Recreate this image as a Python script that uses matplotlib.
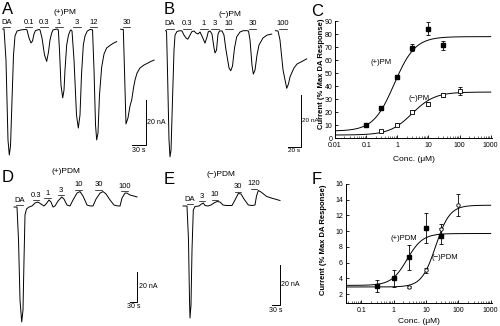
import numpy as np
import matplotlib
matplotlib.use("Agg")
import matplotlib.pyplot as plt
from matplotlib import transforms

plt.rcParams['font.family'] = ['Liberation Sans', 'DejaVu Sans']

W, H = 500, 326

# ---- current traces: time (s), current (nA) ----
# A: (+)PM, two recording segments
a_t1 = [5.8, 8.6, 12.8, 17.1, 19.9, 22.5, 25.7, 28.9, 32.1, 36.4,
        44.9, 55.6, 57.8, 62.1, 66.3, 69.6, 72.8, 76.0, 83.5, 85.6,
        89.9, 95.2, 99.9, 103.8, 107, 110.6, 113.4, 122, 124.8, 127.3,
        130.5, 134.2, 137, 139.1, 142.7, 146.6, 149.8, 151.9, 154.1, 158.4,
        163.7, 167.6, 171.2, 174.4, 178.3, 181.9, 186.8, 192.6, 198, 201.2,
        204.4, 206.9, 209.7, 212.9, 217.6, 222.6, 228.3, 235.4, 241.8, 249.7]
a_i1 = [0, 0, -13.8, -49.3, -56, -52, -31.6, -11.5, -3.1, -0.9,
        -0.4, -0.2, -0.4, -4, -6.2, -5.3, -2.2, -0.7, -0.2, -0.4,
        -4, -11.5, -14.4, -10.2, -4.9, -1.8, -0.4, 0, -0.4, -9.3,
        -24.9, -30.6, -27.1, -18.2, -7.1, -2.7, -0.9, -0.4, -0.9, -13.8,
        -38.2, -44, -38.2, -20.4, -7.1, -3.1, -0.9, -0.2, -0.4, -18.2,
        -42.6, -49.3, -46.2, -29.3, -16.9, -11.1, -8.4, -7.3, -6.4, -5.6]
a_t2 = [258.3, 263.9, 266.4, 269.6, 273.9, 278.2, 281.8, 285.7, 288.9, 293.2,
        299.6, 308.2, 316.7, 323.1, 329.6]
a_i2 = [-0.1, -0.2, -18.2, -42.2, -39.5, -34.2, -31.6, -26.2, -22.7, -19.6,
        -17.3, -16.0, -15.1, -14.4, -13.8]
a_names = ["DA", "0.1", "0.3", "1", "3", "12", "30"]
a_times = [14, 61, 94, 126, 165, 200, 271]

# B: (-)PM
b_t1 = [0.8, 2.4, 3.9, 6.3, 7.9, 9.5, 11.8, 14.2, 15.8, 18.9,
        23.6, 26.8, 29.9, 33.1, 35.8, 38.6, 42.1, 45.7, 48.8, 52,
        55.1, 58.3, 63, 66.2, 68.2, 70.9, 74, 77.2, 78.8, 81.1,
        83.5, 85.8, 89.8, 92.9, 96.1, 100.8, 103.5, 106.3, 109.5, 112.9,
        118.1, 123.3, 128.7, 131.5, 133.9, 137, 139.1, 141.8, 144.9, 148.1,
        154.4, 160.7, 168.1]
b_i1 = [0, -0.1, -15.2, -42.3, -48.8, -46.2, -26.8, -7.4, -1.7, -0.3,
        0, -0.1, -1.7, -2.8, -3.3, -2.1, -0.4, -0.1, -0.9, -1.3,
        -0.5, -2.1, -4.8, -2.4, -0.4, -0.1, -1.3, -6.7, -8.6, -7.5,
        -1.3, -0.1, -0.1, -1.7, -7.5, -14.4, -15.5, -13.7, -6.7, -2.4,
        -0.5, 0, 0, -0.1, -3.6, -13.3, -16.8, -15.2, -9.4, -5.5,
        -2.8, -1.7, -1.3]
b_t2 = [174, 178, 181.1, 185.9, 191.7, 194.5, 196.9, 199.5, 203.2, 207.9, 214.2, 223.2]
b_i2 = [0, -0.1, -3.6, -15.2, -22.3, -20.6, -17.9, -16.4, -14.4, -12.9, -12.1, -10.9]
b_names = ["DA", "0.3", "1", "3", "10", "30", "100"]
b_times = [7.9, 34.7, 61.4, 78.8, 100.8, 137.8, 185.9]

# D: (+)PDM
d_t = [0, 12.3, 18.5, 24.6, 31.6, 36.9, 41, 45.1, 51.3, 61.5,
       73.8, 86.1, 98.4, 110.7, 123, 131.2, 143.5, 151.7, 159.9, 168.1,
       180.4, 195.6, 205, 217.3, 229.6, 241.9, 258.3, 270.6, 282.9, 299.3,
       311.6, 323.9, 336.2, 352.6, 364.9, 377.2, 393.6, 410, 426.4, 434.6,
       442.8, 455.1, 463.3, 475.6, 492, 504.3]
d_i = [0, 0, -22, -62, -76.7, -68.7, -35.3, -5.3, -1.3, 0,
       0.7, 2.7, 3.3, 2, 0.7, 2, 4.7, 3.3, 0, 0.7,
       4, 6.7, 5.3, 1.3, 0.7, 4.7, 9.3, 10.3, 7.3, 1.3,
       0.7, 0.7, 5.3, 9.3, 10.3, 8.7, 4.7, 1.3, 0.7, 0.7,
       6, 9.3, 9.3, 8, 7.3, 6.7]
d_names = ["DA", "0.3", "1", "3", "10", "30", "100"]
d_times = [22.5, 90, 138, 193, 266, 348, 453]

# E: (-)PDM
e_t = [0, 14.4, 19.8, 23.4, 25.2, 28.8, 32.4, 37.1, 43.2, 57.6,
       66.6, 73.1, 79.2, 90, 100.8, 111.6, 122.4, 133.2, 144, 154.8,
       176.4, 187.2, 199.1, 208.8, 219.6, 235.1, 248.4, 259.2, 264.6, 271.1,
       280.8, 301.3, 324, 349.2]
e_i = [0, 0, -17, -47, -56, -49.5, -22, -2, -0.25, 0,
       1, 1.5, 0.25, 0, 0.5, 1.5, 2.25, 2, 0.5, 0.25,
       0.25, 3, 6.25, 6, 3.5, 0.5, 0.25, 0.5, 5, 7.75,
       7, 4.75, 3.75, 2.75]
e_names = ["DA", "3", "10", "30", "120"]
e_times = [25.2, 68.4, 115.2, 198, 255.6]

# ---- concentration-response data (uM, % max DA response) ----
pm_plus_x = [0.1, 0.3, 1, 3, 10, 30]
pm_plus_y = [10.5, 23, 47, 69.5, 84, 71.5]
pm_plus_err = [1, 1.5, 1.5, 2.5, 5, 3.5]
pm_minus_x = [0.3, 1, 3, 10, 30, 100]
pm_minus_y = [5.5, 10.5, 20.5, 26.5, 33, 36]
pm_minus_err = [0.5, 1, 1, 1.5, 1.5, 3]
pm_plus_fit = (5.5, 78, 0.8, 1.3)     # bottom, top, EC50, Hill
pm_minus_fit = (2.5, 35.5, 3.0, 1.2)

pdm_plus_x = [0.3, 1, 3, 10, 30]
pdm_plus_y = [3.0, 4.0, 6.7, 10.4, 9.4]
pdm_plus_err = [0.8, 1.1, 1.6, 1.9, 1.0]
pdm_minus_x = [3, 10, 30, 100]
pdm_minus_y = [2.9, 5.0, 10.3, 13.3]
pdm_minus_err = [0.1, 0.3, 0.6, 1.4]
pdm_plus_fit = (3.1, 9.7, 2.6, 1.8)
pdm_minus_fit = (2.9, 13.3, 20, 2.0)


def hill(x, bottom, top, ec50, n):
    return bottom + (top - bottom) / (1 + (ec50 / x) ** n)


fig = plt.figure(figsize=(W / 100, H / 100), dpi=100)


def px_axes(x0, y0, x1, y1):
    return fig.add_axes([x0 / W, 1 - y1 / H, (x1 - x0) / W, (y1 - y0) / H])


def trace_axes(box, xlim, ylim):
    ax = px_axes(*box)
    ax.set_xlim(*xlim)
    ax.set_ylim(*ylim)
    ax.set_axis_off()
    ax.patch.set_visible(False)
    return ax


def draw_trace(ax, segments):
    for t, i in segments:
        ax.plot(t, i, color='k', lw=0.7, clip_on=False)


def drug_labels(ax, segments, names, times, win, half):
    t_all = np.concatenate([np.asarray(s[0]) for s in segments])
    i_all = np.concatenate([np.asarray(s[1]) for s in segments])
    off_txt = transforms.offset_copy(ax.transData, fig=fig, y=2.4, units='points')
    off_bar = transforms.offset_copy(ax.transData, fig=fig, y=1.3, units='points')
    for name, t in zip(names, times):
        near = (t_all > t - win) & (t_all < t + win)
        ref = max(0.0, i_all[near].max()) if near.any() else 0.0
        ax.text(t, ref, name, transform=off_txt, ha='center', va='bottom', fontsize=5.5)
        ax.plot([t - half, t + half], [ref, ref], transform=off_bar,
                color='k', lw=0.5, clip_on=False)


def scale_bar(ax, t_right, i_bottom, dt, di, t_text, i_text, size=5):
    ax.plot([t_right - dt, t_right, t_right], [i_bottom, i_bottom, i_bottom + di],
            color='k', lw=0.7, clip_on=False)
    ax.annotate(i_text, (t_right, i_bottom + di / 2), xytext=(1.0, 0),
                textcoords='offset points', ha='left', va='center', fontsize=size)
    ax.annotate(t_text, (t_right - dt / 2, i_bottom), xytext=(0, -1.2),
                textcoords='offset points', ha='center', va='top', fontsize=size)


# A
ax_a = trace_axes((0, 20, 160, 160), (0, 342.4), (-58.2, 4.0))
seg_a = [(a_t1, a_i1), (a_t2, a_i2)]
draw_trace(ax_a, seg_a)
drug_labels(ax_a, seg_a, a_names, a_times, 10, 8)
scale_bar(ax_a, 311.8, -51.5, 30, 20, "30 s", "20 nA")

# B
ax_b = trace_axes((165, 20, 325, 170), (0, 252), (-53.9, 4.14))
seg_b = [(b_t1, b_i1), (b_t2, b_i2)]
draw_trace(ax_b, seg_b)
drug_labels(ax_b, seg_b, b_names, b_times, 8, 6)
scale_bar(ax_b, 213.7, -44.9, 20, 20, "20 s", "20 nA", size=4.6)

# D
ax_d = trace_axes((0, 170, 165, 326), (-57.4, 619), (-79.4, 24.7))
seg_d = [(d_t, d_i)]
draw_trace(ax_d, seg_d)
drug_labels(ax_d, seg_d, d_names, d_times, 20, 14)
scale_bar(ax_d, 505.5, -63.1, 30, 20, "30 s", "20 nA")

# E
ax_e = trace_axes((165, 170, 320, 326), (-64.8, 493.2), (-60, 18))
seg_e = [(e_t, e_i)]
draw_trace(ax_e, seg_e)
drug_labels(ax_e, seg_e, e_names, e_times, 20, 12)
scale_bar(ax_e, 349.2, -49.5, 30, 20, "30 s", "20 nA")


def dose_axes(box, xlim, ylim, yticks):
    ax = px_axes(*box)
    ax.set_xscale('log')
    ax.set_xlim(*xlim)
    ax.set_ylim(*ylim)
    ax.set_yticks(yticks)
    ax.set_xticks([0.01, 0.1, 1, 10, 100, 1000])
    ax.set_xticklabels(["0.01", "0.1", "1", "10", "100", "1000"])
    ax.set_xlim(*xlim)
    for side in ('top', 'right'):
        ax.spines[side].set_visible(False)
    for side in ('left', 'bottom'):
        ax.spines[side].set_linewidth(0.7)
    ax.tick_params(which='major', direction='in', length=2.5, width=0.6,
                   labelsize=5, pad=2)
    ax.tick_params(axis='x', which='major', pad=2.8)
    ax.tick_params(which='minor', direction='in', length=1.3, width=0.4)
    ax.set_xlabel("Conc. (\u03bcM)", fontsize=6, labelpad=1.5)
    ax.set_ylabel("Current (% Max DA Response)", fontsize=5.5, fontweight='bold')
    return ax


# C
ax_c = dose_axes((335, 21, 492, 138.3), (0.01, 1100), (0, 90), range(0, 91, 10))
xs = np.logspace(-2, np.log10(1000), 300)
ax_c.plot(xs, hill(xs, *pm_plus_fit), color='k', lw=0.7)
ax_c.plot(xs, hill(xs, *pm_minus_fit), color='k', lw=0.7)
ax_c.errorbar(pm_plus_x, pm_plus_y, yerr=pm_plus_err, fmt='s', color='k', ms=2.5,
              mfc='k', elinewidth=0.6, capsize=1.2, capthick=0.6)
ax_c.errorbar(pm_minus_x, pm_minus_y, yerr=pm_minus_err, fmt='s', color='k', ms=2.5,
              mfc='white', mew=0.6, elinewidth=0.6, capsize=1.2, capthick=0.6)
ax_c.text(0.3, 58.5, "(+)PM", fontsize=5.5, ha='center', va='center')
ax_c.text(5.0, 30.2, "(\u2212)PM", fontsize=5.5, ha='center', va='center')
ax_c.yaxis.set_label_coords(-0.062, 0.55)
ax_c.xaxis.set_label_coords(0.5, -0.15)

# F
ax_f = dose_axes((345.7, 184, 492, 302.7), (0.033, 1100), (0.9, 16), range(2, 17, 2))
xs = np.logspace(np.log10(0.033), np.log10(1000), 300)
ax_f.plot(xs, hill(xs, *pdm_plus_fit), color='k', lw=0.7)
ax_f.plot(xs, hill(xs, *pdm_minus_fit), color='k', lw=0.7)
ax_f.errorbar(pdm_plus_x, pdm_plus_y, yerr=pdm_plus_err, fmt='s', color='k', ms=2.5,
              mfc='k', elinewidth=0.6, capsize=1.2, capthick=0.6)
ax_f.errorbar(pdm_minus_x, pdm_minus_y, yerr=pdm_minus_err, fmt='o', color='k', ms=2.5,
              mfc='white', mew=0.6, elinewidth=0.6, capsize=1.2, capthick=0.6)
ax_f.text(2.0, 9.1, "(+)PDM", fontsize=5.5, ha='center', va='center')
ax_f.text(37, 6.6, "(\u2212)PDM", fontsize=5.5, ha='center', va='center')
ax_f.yaxis.set_label_coords(-0.125, 0.53)
ax_f.xaxis.set_label_coords(0.5, -0.13)

# titles and panel letters
for x, y, s in [(65, 13, "(+)PM"), (230, 15, "(\u2212)PM"),
                (66, 172, "(+)PDM"), (221, 175, "(\u2212)PDM")]:
    fig.text(x / W, 1 - y / H, s, fontsize=6, ha='center', va='center')
for x, y, s in [(8, 9, "A"), (169, 10, "B"), (317, 12, "C"),
                (7.5, 177, "D"), (169, 180, "E"), (317, 179, "F")]:
    fig.text(x / W, 1 - y / H, s, fontsize=12, ha='center', va='center')

fig.savefig("out.png", dpi=100)
